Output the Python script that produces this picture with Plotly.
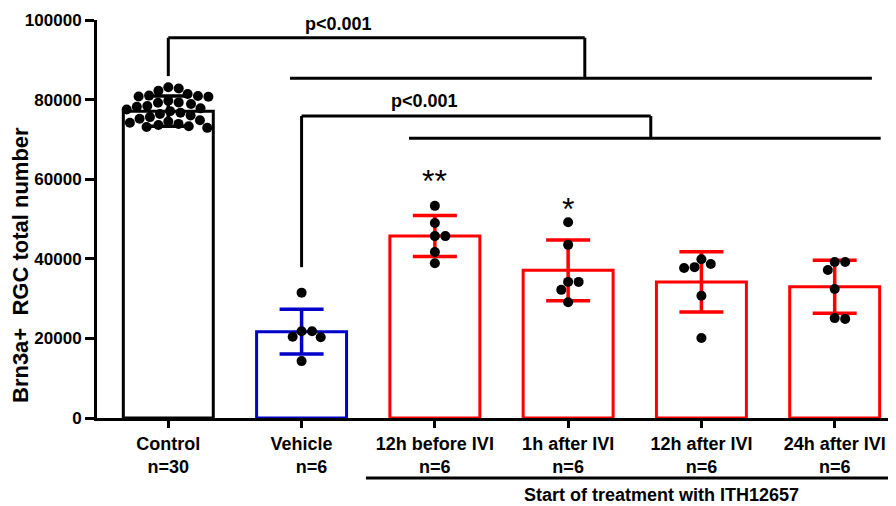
import math
import plotly.graph_objects as go

# ---------------- data ----------------
categories = ["Control", "Vehicle", "12h before IVI", "1h after IVI", "12h after IVI", "24h after IVI"]
n_labels = ["n=30", "&nbsp;&nbsp;&nbsp;&nbsp;n=6", "n=6", "n=6", "n=6", "n=6"]
means = [77100, 21700, 45700, 37100, 34200, 33000]
sds = [3800, 5650, 5150, 7650, 7550, 6650]
control_pts = [83100, 82800, 82200, 81400, 81000, 80900, 80800, 80700, 79700, 79300,
               79200, 78900, 78400, 78200, 77800, 77500, 77100, 76700, 76400, 76000,
               75600, 75200, 74800, 74500, 74200, 73900, 73600, 73300, 73100, 72900]
vehicle_pts = [31500, 21800, 21800, 20400, 20300, 14300]
before12_pts = [53300, 49000, 45700, 45700, 41700, 38900]
after1_pts = [49200, 43500, 34200, 34200, 32200, 29100]
after12_pts = [39900, 38700, 37900, 37700, 30700, 20100]
after24_pts = [39200, 39200, 37200, 32400, 25100, 24900]
points = [control_pts, vehicle_pts, before12_pts, after1_pts, after12_pts, after24_pts]
yticks = [0, 20000, 40000, 60000, 80000, 100000]

colors = ["black", "#0000C8", "#FF0000", "#FF0000", "#FF0000", "#FF0000"]

# ---------------- layout geometry ----------------
# the page body has an 8px margin, so the figure is drawn 8px smaller
W, H = 888, 498
ML, MR, MT, MB = 89, 0, 12, 88
XR = [-0.535, 5.46]
YR = [0, 100000]
plot_w = W - ML - MR
plot_h = H - MT - MB
xpx = plot_w / (XR[1] - XR[0])
ypx = plot_h / (YR[1] - YR[0])


def to_paper_x(v):
    return (v - XR[0]) / (XR[1] - XR[0])


def swarm(vals, diam=10.5):
    placed = []
    offs = [0.0] * len(vals)
    order = sorted(range(len(vals)), key=lambda i: -vals[i])
    for i in order:
        yp = vals[i] * ypx
        cands = [0.0]
        for (xp, yq) in placed:
            dy = yp - yq
            if abs(dy) < diam:
                dx = math.sqrt(diam ** 2 - dy ** 2)
                cands += [xp + dx, xp - dx]
        cands.sort(key=abs)
        chosen = 0.0
        for c in cands:
            if all(math.hypot(c - xp, yp - yq) >= diam - 1e-6 for (xp, yq) in placed):
                chosen = c
                break
        placed.append((chosen, yp))
        offs[i] = chosen / xpx
    return offs


fig = go.Figure()

# bars with error bars
for i, cat in enumerate(categories):
    fig.add_trace(go.Bar(
        x=[i], y=[means[i]], width=0.675,
        marker=dict(color="white", line=dict(color=colors[i], width=3)),
        error_y=dict(type="data", array=[sds[i]], color=colors[i], thickness=3.5, width=22),
        showlegend=False, hoverinfo="skip"))

# scatter points
for i, pts in enumerate(points):
    offs = swarm(pts)
    fig.add_trace(go.Scatter(
        x=[i + o for o in offs], y=pts, mode="markers",
        marker=dict(color="black", size=10),
        showlegend=False, hoverinfo="skip", cliponaxis=False))

# significance brackets
LW = 3
line = dict(color="black", width=LW)
shapes = []


def seg(x0, y0, x1, y1):
    shapes.append(dict(type="line", xref="x", yref="y", x0=x0, y0=y0, x1=x1, y1=y1, line=line))


# top bracket: Control vs all treated
seg(0, 95550, 3.125, 95550)
seg(0, 95550, 0, 85900)
seg(3.125, 95550, 3.125, 85350)
seg(0.913, 85350, 5.279, 85350)
# second bracket: Vehicle vs ITH groups
seg(1, 75880, 3.62, 75880)
seg(1, 75880, 1, 37900)
seg(3.62, 75880, 3.62, 70280)
seg(1.806, 70280, 5.345, 70280)

# underline for treatment label
shapes.append(dict(type="line", xref="paper", yref="paper",
                   x0=to_paper_x(1.483), x1=1.0, y0=-0.1508, y1=-0.1508,
                   line=dict(color="black", width=3)))

FONT = "Liberation Sans, Arial, sans-serif"
annotations = [
    dict(x=1.28, y=99000, xref="x", yref="y", text="p<0.001", showarrow=False,
         font=dict(family=FONT, size=18, color="black", weight="bold")),
    dict(x=1.92, y=79700, xref="x", yref="y", text="p<0.001", showarrow=False,
         font=dict(family=FONT, size=18, color="black", weight="bold")),
    dict(x=2, y=59600, xref="x", yref="y", text="**", showarrow=False,
         font=dict(family=FONT, size=32, color="black")),
    dict(x=3, y=52600, xref="x", yref="y", text="*", showarrow=False,
         font=dict(family=FONT, size=32, color="black")),
    dict(x=3.70, y=-0.1935, xref="x", yref="paper", text="Start of treatment with ITH12657",
         showarrow=False, yanchor="middle",
         font=dict(family=FONT, size=18, color="black", weight="bold")),
    dict(x=(20 - 8 - ML) / plot_w, y=(418 - 8 - 245 - MT) / plot_h + 0.0, xref="paper", yref="paper",
         text="Brn3a+&nbsp;&nbsp;RGC total number", textangle=-90, showarrow=False,
         xanchor="center", yanchor="middle",
         font=dict(family=FONT, size=22, color="black", weight="bold")),
]

ticktext = [f"{c}<br>{n}" for c, n in zip(categories, n_labels)]

fig.update_layout(
    width=W, height=H,
    margin=dict(l=ML, r=MR, t=MT, b=MB, pad=0),
    plot_bgcolor="white", paper_bgcolor="white",
    barmode="overlay",
    shapes=shapes, annotations=annotations,
    xaxis=dict(range=XR, tickmode="array", tickvals=list(range(len(categories))),
               ticktext=ticktext, showline=True, linecolor="black", linewidth=3,
               ticks="outside", ticklen=7, tickwidth=3, tickcolor="black",
               showgrid=False, zeroline=False,
               tickfont=dict(family=FONT, size=18, color="black", weight="bold")),
    yaxis=dict(range=YR, tickmode="array", tickvals=yticks,
               ticktext=[str(v) for v in yticks],
               showline=True, linecolor="black", linewidth=3,
               ticks="outside", ticklen=9, tickwidth=3, tickcolor="black",
               showgrid=False, zeroline=False,
               tickfont=dict(family=FONT, size=17, color="black", weight="bold")),
)

fig.write_html("out.html")
